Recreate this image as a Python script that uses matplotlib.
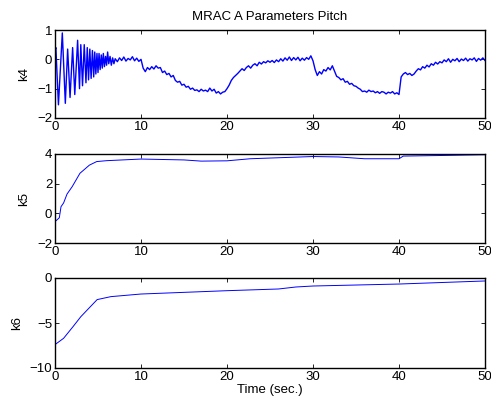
import numpy as np
import matplotlib
matplotlib.use("Agg")
import matplotlib.pyplot as plt

plt.rcParams['font.family'] = ['Liberation Sans', 'DejaVu Sans']

# k4: fast decaying oscillation first, then slow noisy drift
k4_osc_t = [0.0, 0.1, 0.4, 0.85, 1.2, 1.47, 1.75, 2.05, 2.3, 2.63, 2.85, 3.0, 3.2, 3.4,
            3.6, 3.75, 3.9, 4.05, 4.2, 4.35, 4.5, 4.62, 4.75, 4.88, 5.0, 5.12, 5.25,
            5.38, 5.5, 5.62, 5.75, 5.88, 6.0, 6.12, 6.25, 6.4, 6.55, 6.7, 6.85]
k4_osc_v = [0.3, 0.4, -1.55, 0.9, -1.5, 0.35, -1.3, 0.4, -1.2, 0.65, -1.0, 0.5, -0.9, 0.5,
            -0.8, 0.4, -0.7, 0.35, -0.65, 0.3, -0.6, 0.25, -0.5, 0.2, -0.45, 0.2, -0.35,
            0.15, -0.3, 0.2, -0.25, 0.1, -0.2, 0.25, -0.15, 0.1, -0.2, 0.05, -0.15]
k4_slow_t = np.arange(7.0, 50.01, 0.25)
k4_slow_v = [
    0.02, -0.08, 0.05, -0.04, 0.08, -0.06, 0.03, -0.02, 0.09, -0.05, 0.04, -0.07, 0.0,
    -0.3, -0.42, -0.28, -0.35, -0.25, -0.33, -0.22, -0.3, -0.28, -0.45, -0.4, -0.52,
    -0.48, -0.6, -0.55, -0.72, -0.78, -0.75, -0.88, -0.85, -0.95, -0.92, -1.02, -0.98,
    -1.06, -1.04, -1.1, -1.02, -1.08, -1.05, -1.1, -0.98, -1.08, -1.02, -1.15, -1.1,
    -1.18, -1.12, -1.1, -1.0, -0.88, -0.72, -0.62, -0.55, -0.48, -0.4, -0.32, -0.38,
    -0.28, -0.22, -0.3, -0.2, -0.15, -0.22, -0.1, -0.16, -0.08, -0.12, -0.05, -0.1,
    -0.04, -0.11, -0.02, -0.08, 0.02, -0.06, 0.05, -0.03, 0.08, -0.04, 0.06, -0.02,
    0.07, -0.05, 0.04, -0.03, 0.06, 0.0, 0.12, -0.05, -0.35, -0.55, -0.42, -0.5, -0.35,
    -0.4, -0.28, -0.36, -0.22, -0.4, -0.58, -0.62, -0.7, -0.66, -0.78, -0.75, -0.85,
    -0.82, -0.9, -0.92, -0.98, -1.02, -1.1, -1.08, -1.12, -1.05, -1.1, -1.08, -1.14,
    -1.1, -1.16, -1.1, -1.12, -1.18, -1.12, -1.15, -1.1, -1.18, -1.14, -1.2, -0.6,
    -0.5, -0.45, -0.52, -0.48, -0.55, -0.5, -0.4, -0.32, -0.36, -0.25, -0.3, -0.2,
    -0.26, -0.15, -0.2, -0.1, -0.16, -0.08, -0.12, -0.02, -0.08, 0.02, -0.1, 0.0,
    -0.05, 0.03, -0.08, 0.01, -0.04, 0.04, -0.06, 0.02, -0.02, 0.05, -0.07, 0.03,
    -0.03, 0.05, -0.04]

k5_t = [0, 0.5, 0.7, 1.0, 1.4, 2.0, 2.5, 2.9, 3.5, 4.0, 4.85, 6, 10, 15, 17, 20, 22.7,
        30, 33, 36, 40, 40.5, 45, 50]
k5_v = [-0.56, -0.3, 0.45, 0.7, 1.3, 1.8, 2.3, 2.7, 3.0, 3.25, 3.49, 3.55, 3.66, 3.6,
        3.52, 3.54, 3.68, 3.83, 3.8, 3.68, 3.68, 3.86, 3.9, 3.95]

k6_t = [0, 1, 2.1, 3.0, 4.0, 4.9, 6.5, 10, 20, 26, 28, 30, 40, 50]
k6_v = [-7.4, -6.7, -5.4, -4.3, -3.3, -2.4, -2.07, -1.78, -1.41, -1.22, -1.0, -0.89,
        -0.67, -0.33]

xticks = [0, 10, 20, 30, 40, 50]
fs = 9.5

fig = plt.figure(figsize=(4.91, 4.05), dpi=100)
left, width = 55 / 491, 430 / 491
ax1 = fig.add_axes([left, 1 - 118 / 405, width, 88 / 405])
ax2 = fig.add_axes([left, 1 - 243 / 405, width, 89 / 405])
ax3 = fig.add_axes([left, 1 - 368 / 405, width, 90 / 405])

ax1.plot(list(k4_osc_t) + list(k4_slow_t), k4_osc_v + k4_slow_v, color='blue', lw=1.0)
ax2.plot(k5_t, k5_v, color='blue', lw=0.7)
ax3.plot(k6_t, k6_v, color='blue', lw=0.7)

ax1.set_ylim(-2, 1)
ax1.set_yticks([-2, -1, 0, 1])
ax2.set_ylim(-2, 4)
ax2.set_yticks([-2, 0, 2, 4])
ax3.set_ylim(-10, 0)
ax3.set_yticks([-10, -5, 0])

for ax, lab in zip([ax1, ax2, ax3], ['k4', 'k5', 'k6']):
    ax.set_xlim(0, 50)
    ax.set_xticks(xticks)
    ax.tick_params(direction='in', top=True, right=True, length=3, width=0.6,
                   labelsize=fs, pad=2)
    for s in ax.spines.values():
        s.set_linewidth(1.0)
    ax.set_ylabel(lab, fontsize=fs, labelpad=5)

ax1.set_title('MRAC A Parameters Pitch', fontsize=fs, pad=7)
ax3.set_xlabel('Time (sec.)', fontsize=fs, labelpad=1)

fig.savefig('out.png', dpi=100)
